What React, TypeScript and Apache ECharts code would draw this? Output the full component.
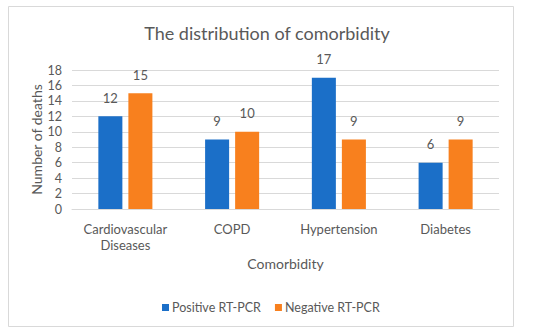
import React, { useEffect, useRef } from "react";
import * as echarts from "echarts";

const categories = ["Cardiovascular\nDiseases", "COPD", "Hypertension", "Diabetes"];
const positiveRTPCR = [12, 9, 17, 6];
const negativeRTPCR = [15, 10, 9, 9];
const seriesNames = ["Positive RT-PCR", "Negative RT-PCR"];

const FONT = "Lato, 'Open Sans', sans-serif";
const TXT = "#595959";

export default function App() {
  const ref = useRef<HTMLDivElement>(null);
  useEffect(() => {
    document.body.style.margin = "0";
    const chart = echarts.init(ref.current!, null, { renderer: "svg" });
    chart.setOption({
      animation: false,
      backgroundColor: "#ffffff",
      textStyle: { fontFamily: FONT },
      title: {
        text: "The distribution of comorbidity",
        left: 262,
        textAlign: "center",
        top: 19,
        textStyle: { fontFamily: FONT, fontSize: 18, fontWeight: "normal", color: TXT },
      },
      graphic: [
        {
          type: "rect",
          shape: { x: 8.5, y: 6.5, width: 505, height: 320 },
          style: { fill: "none", stroke: "#d9d9d9", lineWidth: 1 },
          silent: true,
          z: -1,
        },
      ],
      legend: {
        left: 157,
        top: 296,
        itemWidth: 7,
        itemHeight: 7,
        itemGap: 14,
        icon: "rect",
        textStyle: { fontFamily: FONT, fontSize: 12.5, color: TXT, padding: [0, 0, 0, -2] },
        data: seriesNames,
      },
      grid: { left: 72, right: 51, top: 70, bottom: 126, containLabel: false },
      xAxis: {
        type: "category",
        data: categories,
        name: "Comorbidity",
        nameLocation: "middle",
        nameGap: 47,
        nameMoveOverlap: false,
        nameTextStyle: { fontFamily: FONT, fontSize: 14, color: TXT },
        axisLine: { lineStyle: { color: "#d9d9d9" } },
        axisTick: { show: false },
        axisLabel: { fontFamily: FONT, fontSize: 13, color: TXT, margin: 12, lineHeight: 16, interval: 0 },
      },
      yAxis: {
        type: "value",
        min: 0,
        max: 18,
        interval: 2,
        name: "Number of deaths",
        nameLocation: "middle",
        nameGap: 29,
        nameMoveOverlap: false,
        nameTextStyle: { fontFamily: FONT, fontSize: 14, color: TXT },
        axisLine: { show: false },
        axisTick: { show: false },
        axisLabel: { fontFamily: FONT, fontSize: 12.5, color: TXT, margin: 10 },
        splitLine: { lineStyle: { color: "#d9d9d9" } },
      },
      series: [
        {
          name: seriesNames[0],
          type: "bar",
          data: positiveRTPCR,
          barWidth: "22.5%",
          barGap: "25%",
          itemStyle: { color: "#1B6FC8" },
          label: { show: true, position: "top", distance: 12, fontFamily: FONT, fontSize: 13, color: TXT },
        },
        {
          name: seriesNames[1],
          type: "bar",
          data: negativeRTPCR,
          barWidth: "22.5%",
          barGap: "25%",
          itemStyle: { color: "#F8801E" },
          label: { show: true, position: "top", distance: 12, fontFamily: FONT, fontSize: 13, color: TXT },
        },
      ],
    });
    return () => chart.dispose();
  }, []);
  return <div ref={ref} style={{ width: 550, height: 335 }} />;
}
